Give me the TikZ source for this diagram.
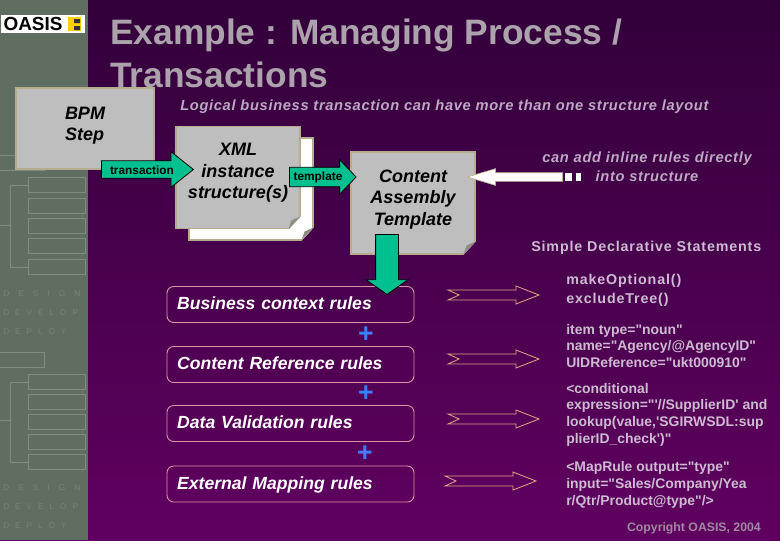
\documentclass[tikz,border=0pt]{standalone}
\usepackage{fontspec}
\setmainfont{Liberation Sans}
\newfontfamily\spacedfont[LetterSpace=110]{Liberation Sans}
\newfontfamily\tightfont[LetterSpace=72]{Liberation Sans}
\newfontfamily\notefont[LetterSpace=4.6]{Liberation Sans}
\newfontfamily\stmtfont{Liberation Sans}
\newfontfamily\headfont[LetterSpace=6]{Liberation Sans}
\usetikzlibrary{calc,shapes.arrows}
\definecolor{bgtop}{HTML}{32003A}
\definecolor{bgbot}{HTML}{600060}
\definecolor{panelgn}{HTML}{5F6E60}
\definecolor{panelln}{HTML}{7F8D7F}
\definecolor{paneltx}{HTML}{75847A}
\definecolor{titlegr}{HTML}{ABA2AC}
\definecolor{notetx}{HTML}{BDA9C4}
\definecolor{stmttx}{HTML}{CDBBD2}
\definecolor{papergr}{HTML}{BEBEBE}
\definecolor{paperln}{HTML}{B5AE8E}
\definecolor{foldgr}{HTML}{8E8E80}
\definecolor{arrowgn}{HTML}{00C090}
\definecolor{rulepk}{HTML}{E08FA8}
\definecolor{plusbl}{HTML}{4080FF}
\newcommand{\foldnote}[2]{%
  \fill[#2] ($(#1.south east)+(0.5,-13)$) -- ($(#1.south east)+(-12,0.5)$) -- ($(#1.south east)+(0.5,0.5)$) -- cycle;
  \fill[foldgr] ($(#1.south east)+(0,-13)$) -- ($(#1.south east)+(-12,0)$) -- ($(#1.south east)+(-9,-9)$) -- cycle;
}
\begin{document}
\begin{tikzpicture}[
    x=0.75pt,y=-0.75pt,
    titletx/.style={font=\fontsize{26.5}{32}\bfseries,text=titlegr,anchor=base west,inner sep=0pt},
    notet/.style={font=\fontsize{11}{14.5}\notefont\bfseries\itshape,text=notetx,inner sep=0pt,align=center},
    stmt/.style={font=\fontsize{10.45}{12.5}\stmtfont\bfseries,text=stmttx,inner sep=0pt,align=left,anchor=west},
    headst/.style={font=\fontsize{10.7}{14}\headfont\bfseries,text=stmttx,inner sep=0pt,align=left,anchor=west},
    paper/.style={fill=papergr,draw=paperln,line width=0.8pt,inner sep=0pt},
    papertx/.style={align=center,inner sep=0pt,font=\fontsize{13.5}{16.2}\bfseries\itshape,text=black},
    flowarrow/.style={shape=single arrow,fill=arrowgn,draw=black,line width=0.6pt,inner sep=0pt,anchor=tail},
    arrowlab/.style={font=\fontsize{8.9}{10}\bfseries,text=black,inner sep=0pt},
    rulebox/.style={draw=rulepk,line width=0.7pt,rounded corners=5pt,minimum width=185.25pt,minimum height=27pt,
      text width=170pt,inner xsep=7.6pt,inner ysep=0pt,align=left,text height=11pt,text depth=3pt,
      font=\fontsize{13.2}{15}\bfseries\itshape,text=white},
    outarrow/.style={draw=rulepk!80!yellow,line width=0.6pt},
    plussign/.style={font=\fontsize{20}{20}\bfseries,text=plusbl,inner sep=0pt},
    panelline/.style={draw=panelln,line width=0.6pt},
    paneltext/.style={font=\fontsize{6.2}{8},text=paneltx,anchor=west,inner sep=0pt},
  ]
  \useasboundingbox (0,0) rectangle (780,540);
  \shade[top color=bgtop,bottom color=bgbot] (0,0) rectangle (780,540);
  \fill[panelgn] (0,0) rectangle (88,540);
  % side panel
  \foreach \ty in {177,198,218,238,259,374,394,414,434,454}{
    \draw[panelline] (28,\ty) rectangle (85,\ty+15);
  }
  \draw[panelline] (0,155) -- (44,155) -- (44,170) -- (0,170);
  \draw[panelline] (0,352) -- (44,352) -- (44,367) -- (0,367);
  \draw[panelline] (28,185) -- (10,185) -- (10,267) -- (28,267);
  \draw[panelline] (0,225) -- (10,225);
  \draw[panelline] (28,382) -- (10,382) -- (10,462) -- (28,462);
  \draw[panelline] (0,420) -- (10,420);
  \foreach \ty/\ta/\tb in {294/a/{\spacedfont DESIGN},313/b/{\tightfont DEVELOP},332/c/{\tightfont DEPLOY},488/d/{\spacedfont DESIGN},507/e/{\tightfont DEVELOP},526/f/{\tightfont DEPLOY}}{
    \node[paneltext] (side\ta) at (3,\ty) {\tb};
  }
  % logo
  \fill[white] (1,15) rectangle (85,33);
  \node[font=\fontsize{14.2}{16}\bfseries,text=black,inner sep=0pt] (logotx) at (33,24) {OASIS};
  \fill[yellow!70!orange] (68,17) rectangle (81,31);
  \fill[black!80] (74,19) rectangle (80,23) (74,26) rectangle (80,30);
  % heading
  \node[titletx] (titlea) at (110,44) {Example : Managing Process /};
  \node[titletx] (titleb) at (110,87) {Transactions};
  \node[notet,anchor=west] (layoutnote) at (180,107) {Logical business transaction can have more than one structure layout};
  % left to right flow
  \node[paper,minimum width=103.5pt,minimum height=60.75pt] (bpm) at (85,128.5) {};
  \node[papertx,align=left] (bpmtx) at (85,125.5) {BPM\\Step};
  \node[paper,fill=white,minimum width=93pt,minimum height=76.5pt] (xmlback) at (251,189) {};
  \foldnote{xmlback}{bgtop!55!bgbot}
  \node[paper,minimum width=93pt,minimum height=77pt] (xmlfront) at (238,177.5) {};
  \foldnote{xmlfront}{white}
  \node[papertx] (xmltx) at (238,173) {XML\\instance\\structure(s)};
  \node[paper,minimum width=93pt,minimum height=76.5pt] (content) at (413,203) {};
  \foldnote{content}{bgtop!40!bgbot}
  \node[papertx] (contenttx) at (413,199.5) {Content\\Assembly\\Template};
  \node[flowarrow,minimum height=69pt,minimum width=26pt,text height=12.5pt,single arrow head extend=6.8pt,single arrow tip angle=77] (transarrow) at (101,169.5) {};
  \node[arrowlab] (translab) at (142,170) {transaction};
  \node[flowarrow,minimum height=50pt,minimum width=25.5pt,text height=14pt,single arrow head extend=5.7pt,single arrow tip angle=93] (tmplarrow) at (289,177) {};
  \node[arrowlab] (tmpllab) at (318,177) {template};
  \node[notet] (inlinenote) at (647,167) {can add inline rules directly\\into structure};
  \node[shape=single arrow,fill=white,draw=paperln,line width=0.5pt,inner sep=0pt,anchor=tail,rotate=180,
    minimum height=71.5pt,minimum width=12pt,text height=6pt,single arrow head extend=3pt,single arrow tip angle=33] (inlinearrow) at (563,177) {};
  \fill[white] (565,173) rectangle (572,181);
  \fill[white] (576,173) rectangle (581,181);
  % rule stack
  \node[rulebox] (rulea) at (290.5,304.5) {Business context rules};
  \node[rulebox] (ruleb) at (290.5,364.5) {Content Reference rules};
  \node[rulebox] (rulec) at (290.5,423.5) {Data Validation rules};
  \node[rulebox] (ruled) at (290.5,484) {External Mapping rules};
  \node[flowarrow,rotate=-90,minimum height=45pt,minimum width=31pt,text height=16.5pt,single arrow head extend=7.2pt,single arrow tip angle=110] (downarrow) at (387,234) {};
  \node[plussign] (plusa) at (366,334.5) {+};
  \node[plussign] (plusb) at (366,393.5) {+};
  \node[plussign] (plusc) at (365,453.5) {+};
  \foreach \ax/\ay in {448/295,448/359,448/419,445/481}{
    \draw[outarrow,shift={(\ax,\ay)}] (0,-5) -- (68,-5) -- (68,-9) -- (91,0) -- (68,9) -- (68,5) -- (0,5) -- (11,0) -- cycle;
  }
  % statements
  \node[headst] (declhead) at (531,247.5) {Simple Declarative Statements};
  \node[headst] (stmta) at (566,290.5) {makeOptional()\\excludeTree()};
  \node[stmt] (stmtb) at (566,346) {item type="noun"\\name="Agency/@AgencyID"\\UIDReference="ukt000910"};
  \node[stmt] (stmtc) at (566,414.5) {<conditional\\expression="'//SupplierID' and\\lookup(value,'SGIRWSDL:sup\\plierID\_check')"};
  \node[stmt] (stmtd) at (566,485) {<MapRule output="type"\\input="Sales/Company/Yea\\r/Qtr/Product@type"/>};
  \node[font=\fontsize{9.2}{11}\bfseries,text=titlegr!85!bgbot,inner sep=0pt,anchor=east] (copynote) at (761,528) {Copyright OASIS, 2004};
\end{tikzpicture}
\end{document}
